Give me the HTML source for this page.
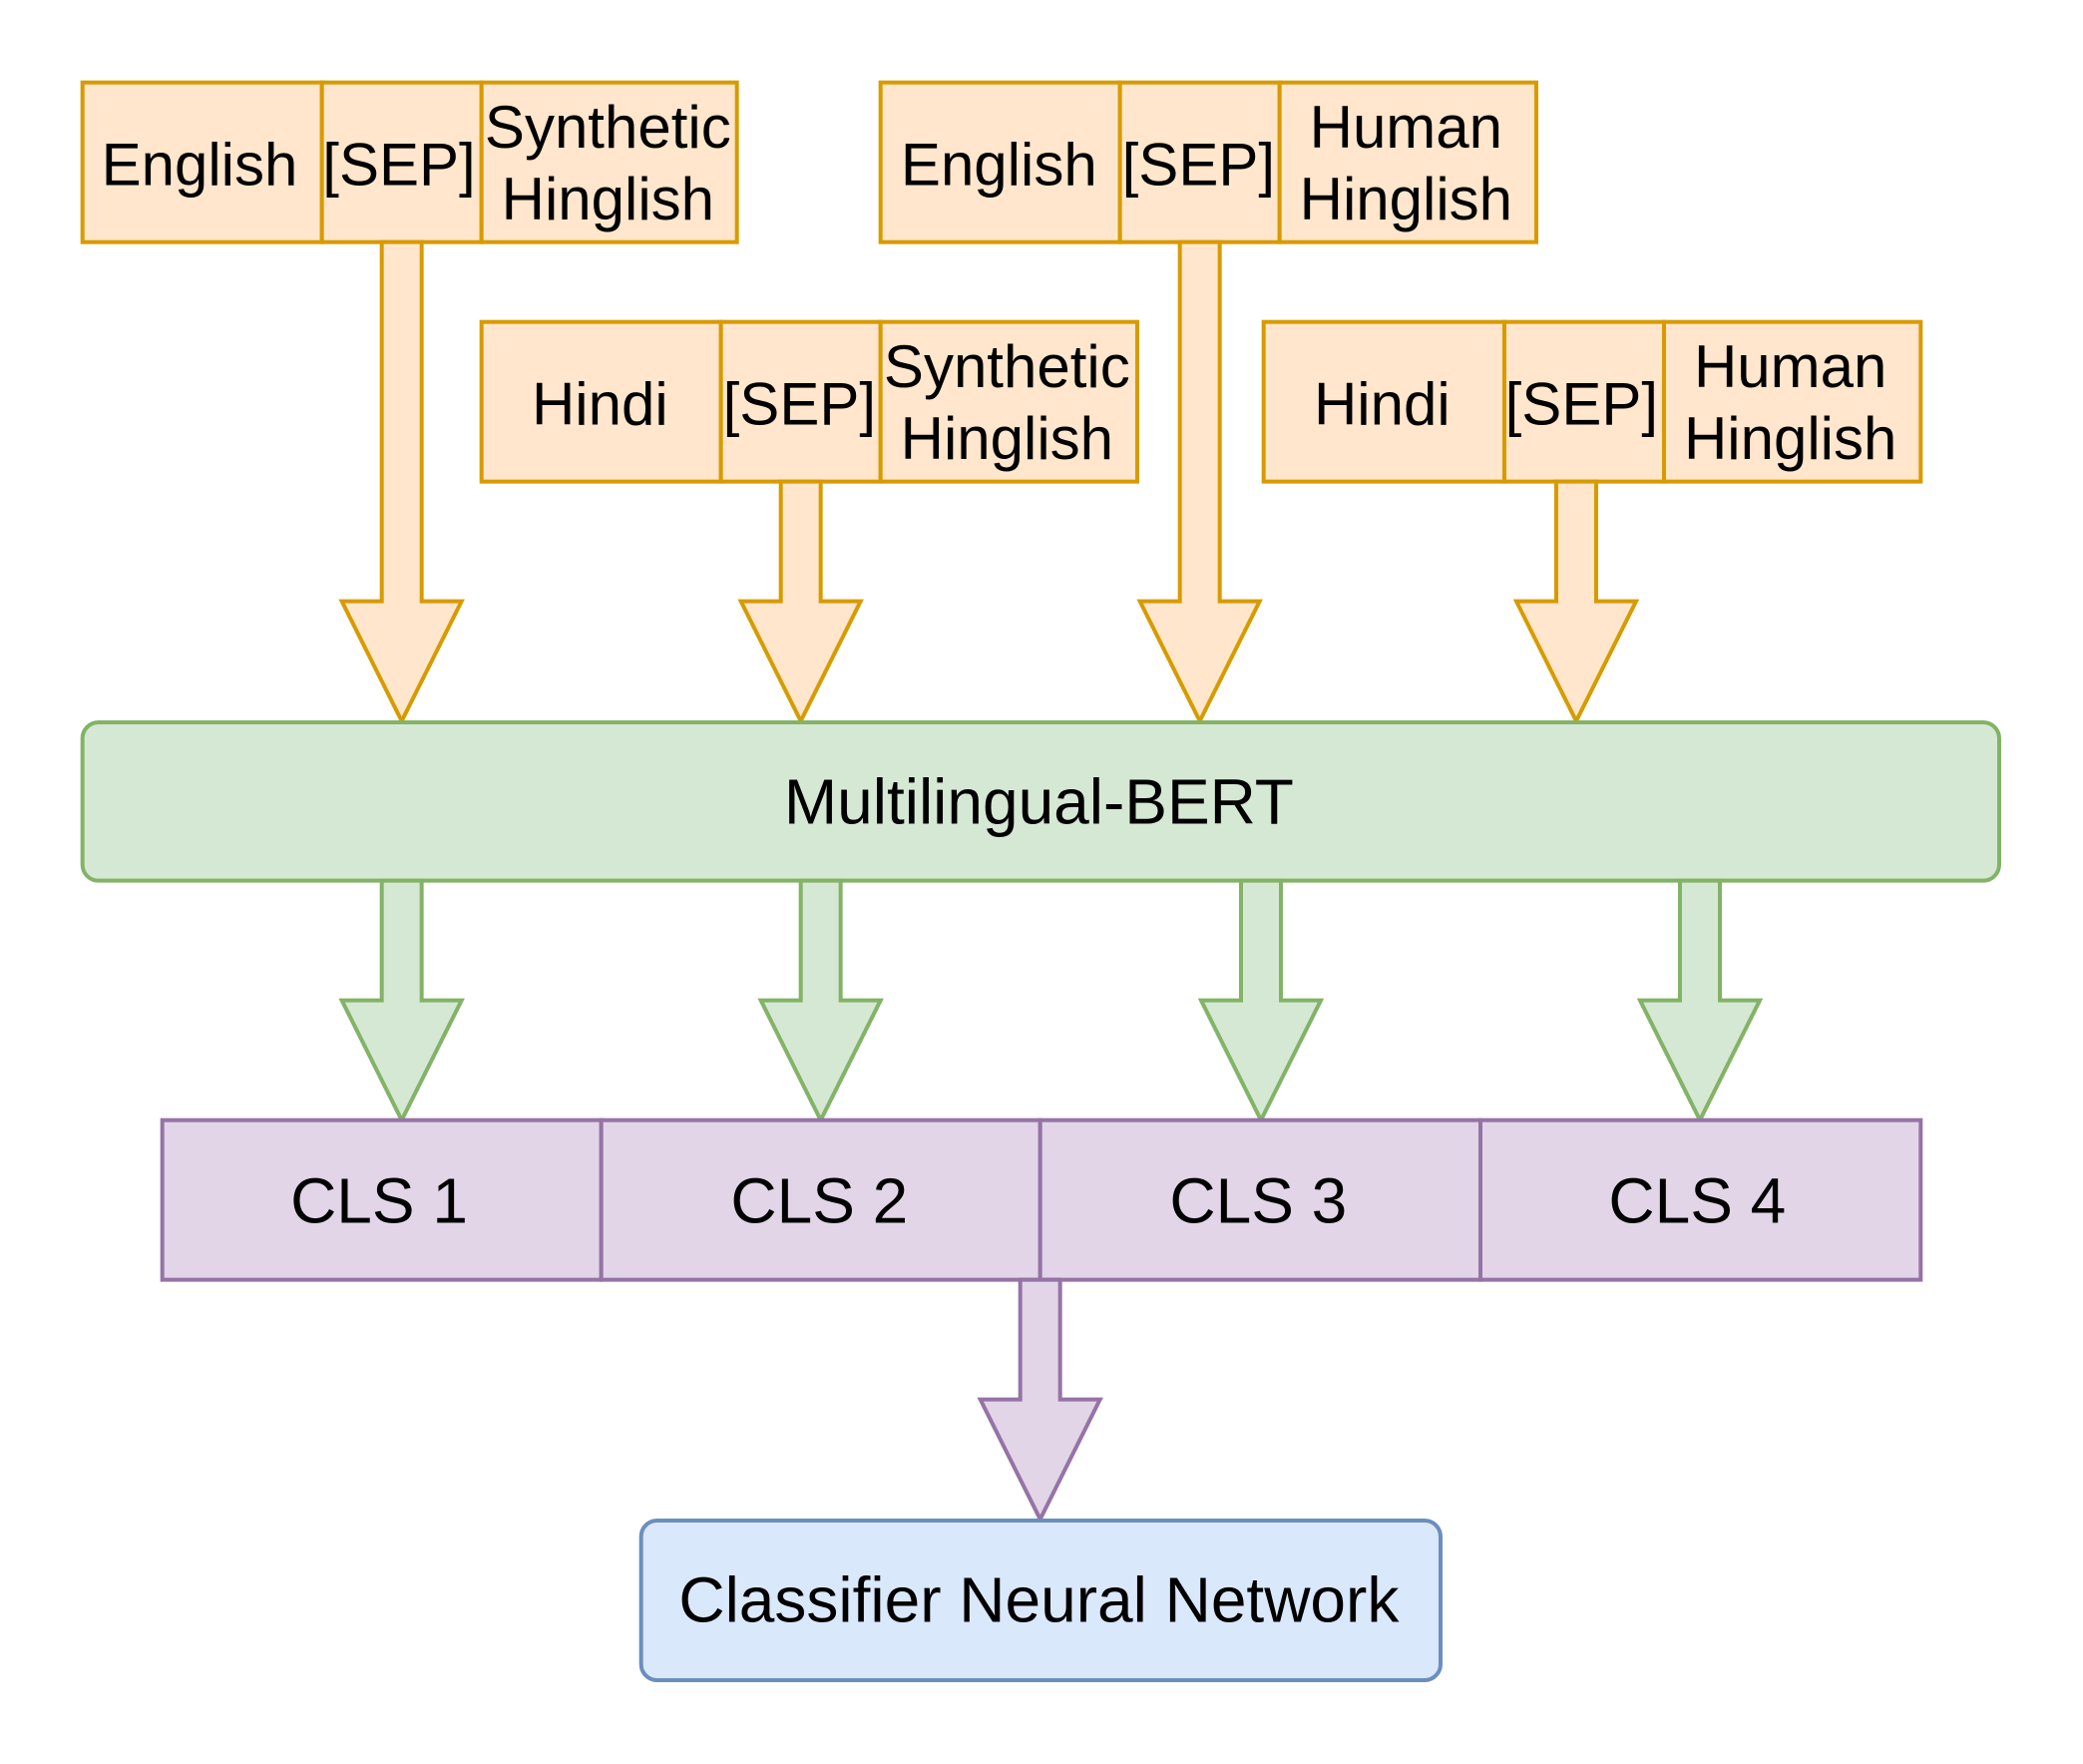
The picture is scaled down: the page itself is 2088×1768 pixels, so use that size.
<!DOCTYPE html>
<html><head><style>html,body{margin:0;padding:0;background:#fff}svg{display:block}</style></head>
<body>
<svg width="2088" height="1768" viewBox="0 0 1566 1326" xmlns="http://www.w3.org/2000/svg" font-family="Liberation Sans, Arial, sans-serif" font-size="48" text-anchor="middle">
<g fill="#ffe6cc" stroke="#d79b00" stroke-width="3">
<rect x="62" y="62" width="180" height="120"/><rect x="242" y="62" width="120" height="120"/><rect x="362" y="62" width="192" height="120"/>
<rect x="662" y="62" width="180" height="120"/><rect x="842" y="62" width="120" height="120"/><rect x="962" y="62" width="193" height="120"/>
<rect x="362" y="242" width="180" height="120"/><rect x="542" y="242" width="120" height="120"/><rect x="662" y="242" width="193" height="120"/>
<rect x="950" y="242" width="181" height="120"/><rect x="1131" y="242" width="120" height="120"/><rect x="1251" y="242" width="193" height="120"/>
<path d="M287 182 L317 182 L317 452 L347 452 L302 542 L257 452 L287 452 Z"/>
<path d="M587 362 L617 362 L617 452 L647 452 L602 542 L557 452 L587 452 Z"/>
<path d="M887 182 L917 182 L917 452 L947 452 L902 542 L857 452 L887 452 Z"/>
<path d="M1170 362 L1200 362 L1200 452 L1230 452 L1185 542 L1140 452 L1170 452 Z"/>
</g>
<g fill="#000" font-size="45">
<text x="150" y="139">English</text><text x="300" y="139">[SEP]</text>
<text x="457" y="111">Synthetic</text><text x="457" y="165">Hinglish</text>
<text x="751" y="139">English</text><text x="901" y="139">[SEP]</text>
<text x="1057" y="111">Human</text><text x="1057" y="165">Hinglish</text>
<text x="451" y="319">Hindi</text><text x="601" y="319">[SEP]</text>
<text x="757" y="291">Synthetic</text><text x="757" y="345">Hinglish</text>
<text x="1039" y="319">Hindi</text><text x="1189" y="319">[SEP]</text>
<text x="1346" y="291">Human</text><text x="1346" y="345">Hinglish</text>
</g>
<rect x="62" y="543" width="1441" height="119" rx="12" fill="#d5e8d4" stroke="#82b366" stroke-width="3"/>
<text x="781" y="619">Multilingual-BERT</text>
<g fill="#d5e8d4" stroke="#82b366" stroke-width="3">
<path d="M287 662 L317 662 L317 752 L347 752 L302 842 L257 752 L287 752 Z"/>
<path d="M602 662 L632 662 L632 752 L662 752 L617 842 L572 752 L602 752 Z"/>
<path d="M933 662 L963 662 L963 752 L993 752 L948 842 L903 752 L933 752 Z"/>
<path d="M1263 662 L1293 662 L1293 752 L1323 752 L1278 842 L1233 752 L1263 752 Z"/>
</g>
<g fill="#e1d5e7" stroke="#9673a6" stroke-width="3">
<rect x="122" y="842" width="330" height="120"/><rect x="452" y="842" width="330" height="120"/>
<rect x="782" y="842" width="331" height="120"/><rect x="1113" y="842" width="331" height="120"/>
<path d="M767 962 L797 962 L797 1052 L827 1052 L782 1142 L737 1052 L767 1052 Z"/>
</g>
<g fill="#000">
<text x="285" y="919">CLS 1</text><text x="616" y="919">CLS 2</text><text x="946" y="919">CLS 3</text><text x="1276" y="919">CLS 4</text>
</g>
<rect x="482" y="1143" width="601" height="120" rx="12" fill="#dae8fc" stroke="#6c8ebf" stroke-width="3"/>
<text x="781" y="1219">Classifier Neural Network</text>
</svg>
</body></html>
